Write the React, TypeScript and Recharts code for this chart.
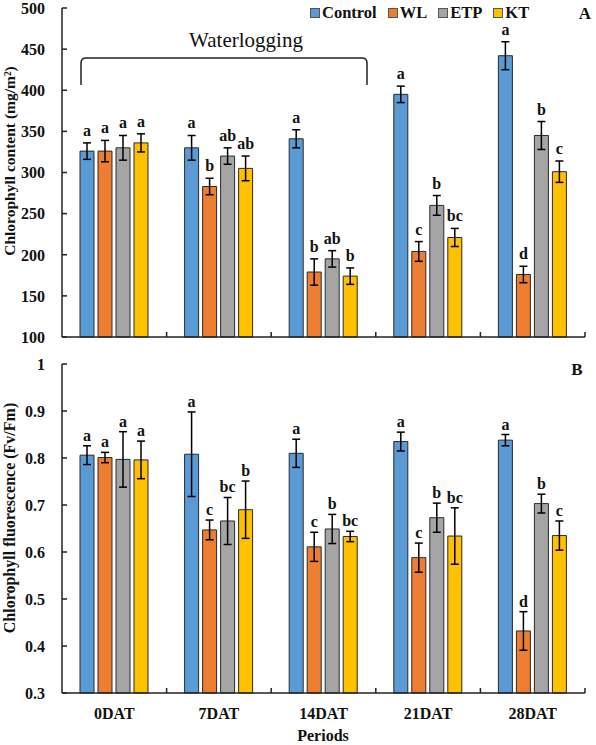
import React from 'react'
import { BarChart, Bar, XAxis, YAxis, ErrorBar, LabelList } from 'recharts'

const periods = ['0DAT', '7DAT', '14DAT', '21DAT', '28DAT']
const treatments = ['Control', 'WL', 'ETP', 'KT']
const colors = ['#5B9BD5', '#ED7D31', '#A5A5A5', '#FFC000']

// A: chlorophyll content (mg/m2)
const chlControl = [326, 330, 341, 395, 442]
const chlWL = [326, 283, 179, 204, 176]
const chlETP = [330, 320, 195, 260, 345]
const chlKT = [336, 305, 174, 221, 301]
const chlControlErr = [10, 15, 11, 10, 17]
const chlWLErr = [13, 10, 16, 12, 10]
const chlETPErr = [15, 10, 10, 12, 17]
const chlKTErr = [11, 15, 10, 11, 13]
const chlControlSig = ['a', 'a', 'a', 'a', 'a']
const chlWLSig = ['a', 'b', 'b', 'c', 'd']
const chlETPSig = ['a', 'ab', 'ab', 'b', 'b']
const chlKTSig = ['a', 'ab', 'b', 'bc', 'c']
const chlTicks = [100, 150, 200, 250, 300, 350, 400, 450, 500]

// B: chlorophyll fluorescence (Fv/Fm)
const fvControl = [0.806, 0.808, 0.81, 0.835, 0.838]
const fvWL = [0.801, 0.647, 0.611, 0.588, 0.432]
const fvETP = [0.797, 0.666, 0.649, 0.673, 0.703]
const fvKT = [0.796, 0.69, 0.633, 0.634, 0.635]
const fvControlErr = [0.02, 0.09, 0.03, 0.02, 0.012]
const fvWLErr = [0.011, 0.021, 0.031, 0.031, 0.041]
const fvETPErr = [0.059, 0.05, 0.031, 0.031, 0.02]
const fvKTErr = [0.04, 0.061, 0.011, 0.06, 0.031]
const fvControlSig = ['a', 'a', 'a', 'a', 'a']
const fvWLSig = ['a', 'c', 'c', 'c', 'd']
const fvETPSig = ['a', 'bc', 'b', 'b', 'b']
const fvKTSig = ['a', 'b', 'bc', 'bc', 'c']
const fvTicks = [0.3, 0.4, 0.5, 0.6, 0.7, 0.8, 0.9, 1]

const FONT = '"Liberation Serif", "Times New Roman", serif'
const W = 596
const LEFT = 62
const RIGHT = 585
const BAND = (RIGHT - LEFT) / periods.length
const Y_GAP = 17
const X_GAP = 0

const buildRows = (vals: number[][], errs: number[][], sigs: string[][]) =>
  periods.map((p, i) => {
    const row: any = { period: p }
    vals.forEach((v, j) => {
      row['v' + j] = v[i]
      row['e' + j] = errs[j][i]
      row['l' + j] = sigs[j][i]
    })
    return row
  })

const chlData = buildRows(
  [chlControl, chlWL, chlETP, chlKT],
  [chlControlErr, chlWLErr, chlETPErr, chlKTErr],
  [chlControlSig, chlWLSig, chlETPSig, chlKTSig],
)
const fvData = buildRows(
  [fvControl, fvWL, fvETP, fvKT],
  [fvControlErr, fvWLErr, fvETPErr, fvKTErr],
  [fvControlSig, fvWLSig, fvETPSig, fvKTSig],
)

const txt = { fontFamily: FONT, fontWeight: 700, fill: '#111' }

const YTick = (props: any) => {
  const { x, y, payload } = props
  const ax = x + Y_GAP
  return (
    <g>
      <line x1={ax} x2={ax + 5} y1={y} y2={y} stroke="#222" strokeWidth={1.5} />
      <text x={x} y={y} dy="0.36em" textAnchor="end" fontSize={16} style={txt}>{payload.value}</text>
    </g>
  )
}

const makeXTick = (showLabel: boolean) => (props: any) => {
  const { x, y, payload } = props
  const ay = y - X_GAP
  const bx = x + BAND / 2
  return (
    <g>
      <line x1={bx} x2={bx} y1={ay} y2={ay - 5} stroke="#222" strokeWidth={1.5} />
      {showLabel && (
        <text x={x} y={ay + 26} textAnchor="middle" fontSize={16} style={txt}>{payload.value}</text>
      )}
    </g>
  )
}

// letter sits above the error bar: pxPerUnit converts the error to pixels
const makeLetter = (pxPerUnit: number, gap: number) => (p: any) => {
  const vb = p.viewBox || p
  const [letter, err] = String(p.value).split('|')
  const cx = vb.x + vb.width / 2
  const top = vb.y - Number(err) * pxPerUnit - gap
  return (
    <text x={cx} y={top} textAnchor="middle" fontSize={16} style={txt}>{letter}</text>
  )
}

function Panel({ data, ticks, height, marginTop, xHeight, showLabels, pxPerUnit, gap }: any) {
  const letter = makeLetter(pxPerUnit, gap)
  return (
    <BarChart width={W} height={height} data={data} barGap={4}
      margin={{ top: marginTop, right: W - RIGHT, bottom: 0, left: 12 }}>
      <XAxis dataKey="period" height={xHeight} axisLine={{ stroke: '#222', strokeWidth: 1.5 }}
        tickLine={false} tickSize={0} tickMargin={X_GAP} tick={makeXTick(showLabels)} interval={0} />
      <YAxis type="number" width={LEFT - 12} domain={[ticks[0], ticks[ticks.length - 1]]} ticks={ticks}
        interval={0} axisLine={{ stroke: '#222', strokeWidth: 1.5 }} tickLine={false} tickSize={0}
        tickMargin={Y_GAP} tick={YTick} />
      {treatments.map((t, j) => (
        <Bar key={t} dataKey={'v' + j} name={t} fill={colors[j]} stroke="#2a2a2a" strokeWidth={1}
          barSize={14} isAnimationActive={false}>
          <ErrorBar dataKey={'e' + j} width={4} stroke="#000" strokeWidth={1.5} />
          <LabelList dataKey={(d: any) => d['l' + j] + '|' + d['e' + j]} content={letter} />
        </Bar>
      ))}
    </BarChart>
  )
}

export default function App() {
  const hA = 350
  const hB = 390
  return (
    <div style={{ position: 'absolute', left: 0, top: 0, width: W, height: 745, background: '#fff', fontFamily: FONT }}>
      <div style={{ position: 'absolute', left: 0, top: 0 }}>
        <Panel data={chlData} ticks={chlTicks} height={hA} marginTop={8} xHeight={13} showLabels={false}
          pxPerUnit={(hA - 13 - 8) / 400} gap={7} />
      </div>
      <div style={{ position: 'absolute', left: 0, top: 355 }}>
        <Panel data={fvData} ticks={fvTicks} height={hB} marginTop={9} xHeight={52} showLabels={true}
          pxPerUnit={(hB - 52 - 9) / 0.7} gap={5} />
      </div>

      <svg width={W} height={745} style={{ position: 'absolute', left: 0, top: 0, pointerEvents: 'none' }}>
        <path d="M81,85 L81,63 Q81,58 86,58 L362,58 Q367,58 367,63 L367,85" fill="none" stroke="#222" strokeWidth={1.5} />
        <text x={246} y={47} textAnchor="middle" fontSize={21} fontFamily={FONT} fill="#111">Waterlogging</text>
        <text x={585} y={19} textAnchor="middle" fontSize={17} style={txt}>A</text>
        <text x={577} y={375} textAnchor="middle" fontSize={17} style={txt}>B</text>
        <text transform="translate(15,161) rotate(-90)" textAnchor="middle" fontSize={15.5} style={txt}>
          Chlorophyll content (mg/m²)
        </text>
        <text transform="translate(15,518) rotate(-90)" textAnchor="middle" fontSize={16} style={txt}>
          Chlorophyll fluorescence (Fv/Fm)
        </text>
        <text x={323} y={741} textAnchor="middle" fontSize={16} style={txt}>Periods</text>
      </svg>

      <div style={{ position: 'absolute', left: 310, top: 4, display: 'flex', alignItems: 'center', fontWeight: 700, fontSize: 16.5, lineHeight: '18px', color: '#111' }}>
        {treatments.map((t, j) => (
          <div key={t} style={{ display: 'flex', alignItems: 'center', marginRight: 11 }}>
            <span style={{ width: 8, height: 8, background: colors[j], border: '1px solid #555', marginRight: 2 }} />
            <span>{t}</span>
          </div>
        ))}
      </div>
    </div>
  )
}
